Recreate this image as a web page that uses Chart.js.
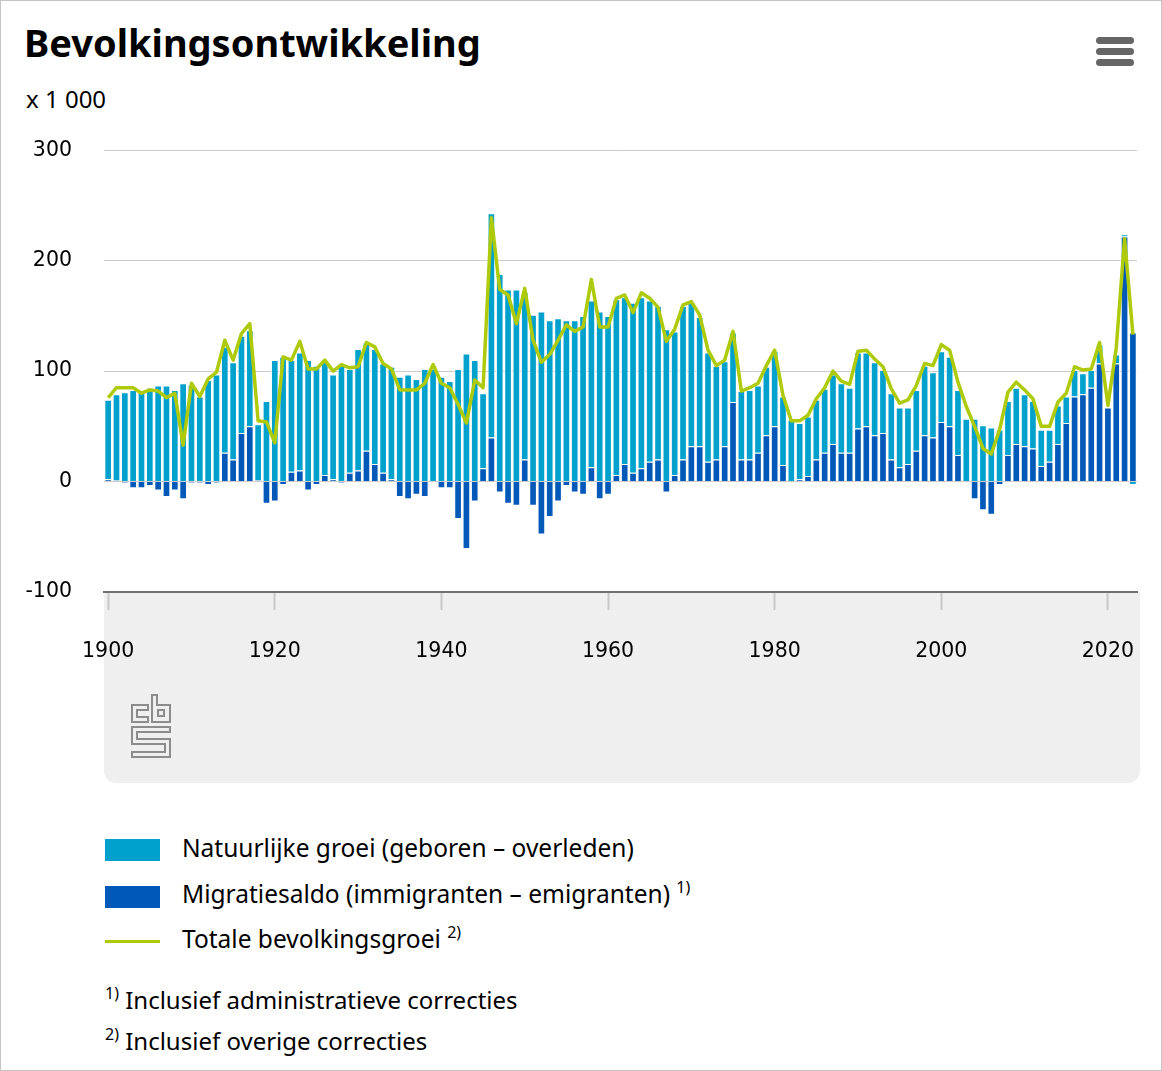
<!DOCTYPE html>
<html lang="nl">
<head>
<meta charset="utf-8">
<title>Bevolkingsontwikkeling</title>
<script src="https://cdn.jsdelivr.net/npm/chart.js@4.4.1/dist/chart.umd.min.js"></script>
<style>
  html, body { margin: 0; padding: 0; background: #fff; }
  #card { position: relative; width: 1162px; height: 1071px; overflow: hidden;
    box-shadow: inset 0 0 0 1px #c4c4c4; font-family: "Noto Sans", sans-serif; color: #000; }
  h1 { position: absolute; left: 24px; top: 23px; margin: 0; font-size: 38px; line-height: 38px; font-weight: 700; white-space: nowrap; }
  .unit { position: absolute; left: 26px; top: 87px; font-size: 24px; line-height: 24px; }
  .menu { position: absolute; left: 1096px; top: 37px; width: 38px; }
  .menu span { display: block; height: 7px; border-radius: 4px; background: #666; margin-bottom: 4px; }
  .panel { position: absolute; left: 104px; top: 592px; width: 1036px; height: 191px; background: #efefef; border-radius: 0 0 12px 12px; }
  #wrap { position: absolute; left: 0; top: 106px; width: 1162px; height: 594px; }
  .logo { position: absolute; left: 128px; top: 692px; }
  .key { position: absolute; left: 105px; width: 55px; }
  .txt { position: absolute; left: 182px; font-size: 24.5px; line-height: 24.5px; white-space: nowrap; }
  .txt sup, .note sup { font-size: 16px; vertical-align: 10px; line-height: 0; }
  .note { position: absolute; left: 105px; font-size: 24px; line-height: 24px; white-space: nowrap; }
</style>
</head>
<body>
<div id="card">
  <h1>Bevolkingsontwikkeling</h1>
  <div class="unit">x 1 000</div>
  <div class="menu"><span></span><span></span><span></span></div>
  <div class="panel"></div>
  <svg class="logo" width="46" height="70" viewBox="128 692 46 70">
    <g fill="none" stroke="#8c8c8c" stroke-width="2">
      <path d="M148 705 H132 V722 H148 V717 H137 V710 H148 Z"/>
      <path d="M152 695 H157 V705 H170 V722 H152 Z"/>
      <path d="M158 710 H164 V716 H158 Z"/>
      <path d="M132 727 H170 V732 H137 V739 H170 V757 H132 V752 H165 V744 H132 Z"/>
    </g>
  </svg>
  <div id="wrap"><canvas id="chart" width="1162" height="594"></canvas></div>

  <div class="key" style="top:839px;height:22px;background:#00a1cd"></div>
  <div class="txt" style="top:836px">Natuurlijke groei (geboren – overleden)</div>
  <div class="key" style="top:886px;height:22px;background:#0058b8"></div>
  <div class="txt" style="top:882px">Migratiesaldo (immigranten – emigranten) <sup>1)</sup></div>
  <div class="key" style="top:940px;height:3px;background:#afca0b"></div>
  <div class="txt" style="top:927px">Totale bevolkingsgroei <sup>2)</sup></div>
  <div class="note" style="top:988px"><sup>1)</sup> Inclusief administratieve correcties</div>
  <div class="note" style="top:1029px"><sup>2)</sup> Inclusief overige correcties</div>
</div>

<script>
/* global Chart */
var firstYear = 1900;
var lastYear = 2023;
var years = [];
for (var y = firstYear; y <= lastYear; y++) years.push(y);

// x 1 000, per year 1900-2023
var natural = [
  72, 78, 81, 83, 83, 85, 87, 87, 83, 89,        // 1900
  88, 77, 92, 97, 96, 88, 88, 87, 51, 73,        // 1910
  110, 113, 101, 107, 110, 105, 104, 95, 107, 94, // 1920
  110, 98, 104, 99, 102, 95, 97, 93, 102, 102,   // 1930
  95, 91, 102, 116, 110, 68, 203, 188, 174, 174, // 1940
  152, 151, 154, 146, 148, 146, 146, 150, 151, 154, // 1950
  150, 159, 151, 154, 155, 146, 139, 138, 130, 139, // 1960
  130, 117, 99, 85, 77, 63, 62, 63, 61, 62,      // 1970
  68, 62, 56, 51, 54, 54, 58, 63, 63, 59,        // 1980
  69, 67, 66, 57, 60, 54, 51, 55, 63, 59,        // 1990
  64, 63, 59, 57, 57, 51, 49, 47, 49, 51,        // 2000
  47, 43, 33, 29, 35, 24, 24, 19, 16, 17,        // 2010
  0, 8, 2, -3                                    // 2020
];
var migration = [
  2, 1, -1, -6, -6, -4, -8, -14, -8, -16,
  -1, -1, -3, -1, 26, 20, 44, 50, 1, -20,
  -18, -3, 9, 10, -8, -3, 6, 2, -1, 8,
  10, 28, 16, 8, 2, -14, -16, -12, -14, 0,
  -6, -6, -34, -61, -18, 12, 40, -10, -20, -22,
  20, -22, -48, -32, -18, -4, -10, -12, 13, -16,
  -12, 6, 16, 8, 12, 18, 20, -10, 6, 20,
  32, 32, 18, 20, 32, 72, 20, 20, 26, 42,
  50, 15, 0, 2, 5, 20, 26, 34, 26, 26,
  48, 50, 42, 44, 20, 13, 16, 28, 42, 40,
  54, 50, 24, 0, -16, -26, -30, -3, 24, 34,
  32, 30, 14, 18, 34, 53, 77, 79, 85, 107,
  67, 107, 222, 135
];
var total = [
  76, 85, 85, 85, 80, 83, 82, 76, 80, 33,
  89, 77, 93, 99, 128, 110, 134, 143, 55, 54,
  35, 113, 110, 127, 102, 102, 110, 100, 106, 103,
  104, 126, 122, 107, 102, 83, 83, 83, 89, 106,
  89, 85, 70, 53, 92, 85, 239, 174, 169, 143,
  175, 128, 108, 115, 128, 142, 136, 140, 183, 140,
  140, 166, 169, 153, 171, 166, 158, 127, 138, 160,
  163, 151, 119, 105, 110, 136, 82, 85, 89, 105,
  119, 78, 55, 55, 60, 75, 85, 100, 91, 88,
  118, 119, 111, 104, 84, 71, 74, 87, 107, 105,
  124, 119, 90, 68, 50, 30, 25, 47, 81, 90,
  83, 75, 50, 50, 72, 80, 104, 101, 102, 126,
  69, 121, 220, 133
];
var yTicks = [-100, 0, 100, 200, 300];

var tickFont = { family: 'DejaVu Sans', size: 20.5 };

var ctx = document.getElementById('chart').getContext('2d');
var chart = new Chart(ctx, {
  type: 'bar',
  data: {
    labels: years,
    datasets: [{
      label: 'Migratiesaldo (immigranten – emigranten)',
      data: migration,
      backgroundColor: '#0058b8',
      borderColor: '#ffffff',
      borderWidth: 1,
      order: 1
    }, {
      label: 'Natuurlijke groei (geboren – overleden)',
      data: natural,
      backgroundColor: '#00a1cd',
      borderColor: '#ffffff',
      borderWidth: 1,
      order: 1
    }, {
      type: 'line',
      label: 'Totale bevolkingsgroei',
      data: total,
      stack: 'total',
      borderColor: '#afca0b',
      borderWidth: 3.5,
      borderJoinStyle: 'round',
      pointRadius: 0,
      tension: 0,
      fill: false,
      order: 0
    }]
  },
  options: {
    responsive: false,
    animation: false,
    // the y tick padding already reserves 44px above the chart area
    layout: { padding: { top: 0, right: 22, bottom: 0, left: 0 } },
    datasets: { bar: { barPercentage: 0.92, categoryPercentage: 1 } },
    plugins: { legend: { display: false }, tooltip: { enabled: false } },
    scales: {
      x: {
        stacked: true,
        offset: true,
        afterFit: function (scale) { scale.height = 108; },
        border: { display: true, color: '#707070', width: 2 },
        grid: {
          offset: false,
          drawOnChartArea: false,
          drawTicks: true,
          tickLength: 18,
          tickWidth: 2,
          tickColor: function (c) {
            return years[c.index] % 20 === 0 ? '#c8c8c8' : 'rgba(0,0,0,0)';
          }
        },
        ticks: {
          autoSkip: false,
          maxRotation: 0,
          padding: 29,
          color: '#000',
          font: tickFont,
          callback: function (value, index) {
            return years[index] % 20 === 0 ? String(years[index]) : '';
          }
        }
      },
      y: {
        stacked: true,
        min: yTicks[0],
        max: yTicks[yTicks.length - 1],
        afterFit: function (scale) { scale.width = 104; },
        afterBuildTicks: function (scale) {
          scale.ticks = yTicks.map(function (v) { return { value: v }; });
        },
        border: { display: false },
        grid: {
          drawTicks: false,
          lineWidth: 1,
          color: function (c) {
            return c.tick && c.tick.value === yTicks[0] ? 'rgba(0,0,0,0)' : '#cccccc';
          }
        },
        ticks: {
          padding: 32,
          color: '#000',
          font: tickFont
        }
      }
    }
  }
});
</script>
</body>
</html>
